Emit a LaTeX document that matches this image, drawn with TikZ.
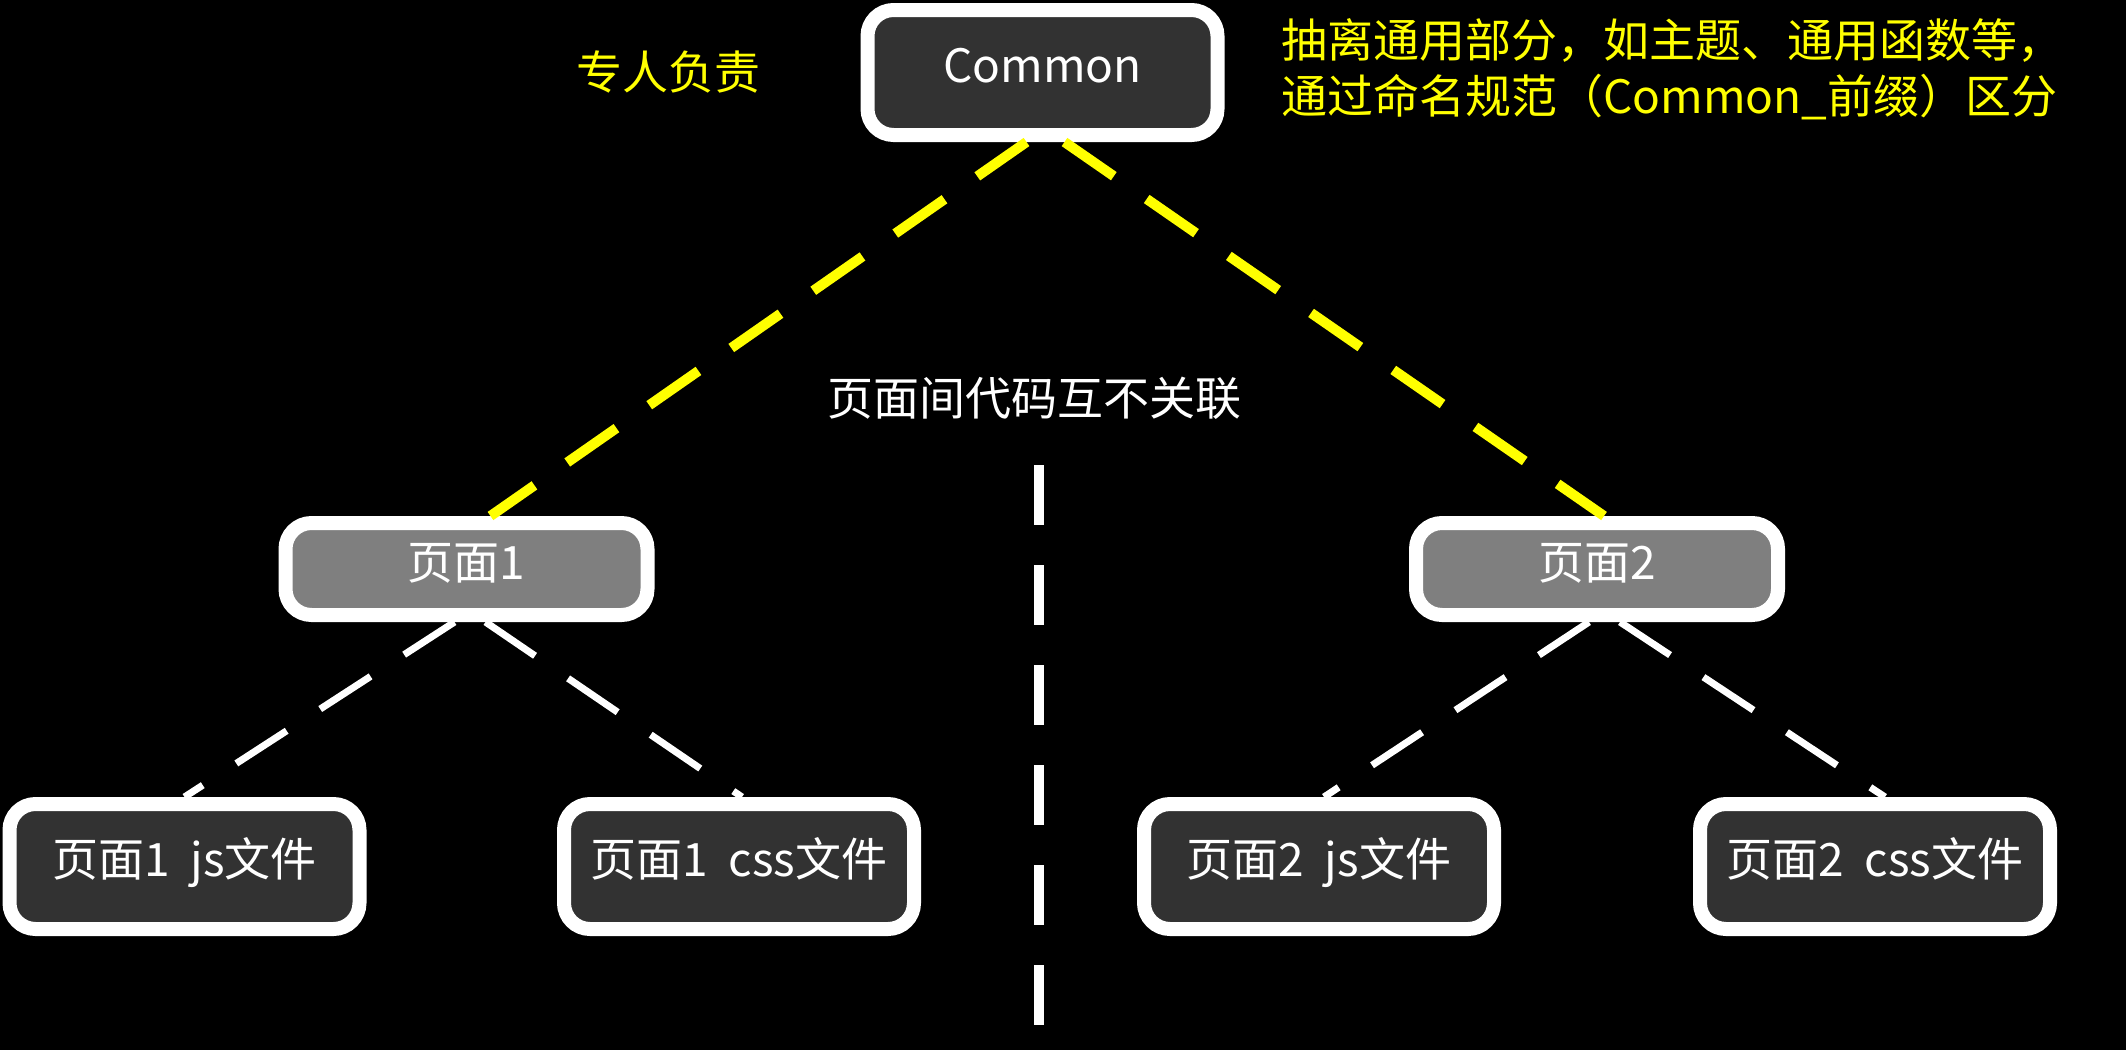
\documentclass[tikz,border=0pt]{standalone}
\usepackage{fontspec}
\setmainfont{Noto Sans CJK SC}
\definecolor{boxdark}{HTML}{323232}
\definecolor{boxgray}{HTML}{7F7F7F}
\definecolor{hiyellow}{HTML}{FFFF00}
\newcommand{\gapsp}{\hspace{0.45em}}
\tikzset{
  basebox/.style={draw=white, line width=14pt, rounded corners=26pt, inner sep=0pt,
    text=white, font=\fontsize{46pt}{55pt}\selectfont, text height=30pt, text depth=10pt},
  darkbox/.style={basebox, fill=boxdark, minimum width=350pt, minimum height=125pt},
  pagebox/.style={basebox, fill=boxgray, minimum width=362pt, minimum height=92pt},
  ylink/.style={draw=hiyellow, line width=10pt, dash pattern=on 60pt off 40pt},
  wlink/.style={draw=white, line width=7pt, dash pattern=on 60pt off 40pt},
  divider/.style={draw=white, line width=10pt, dash pattern=on 60pt off 40pt},
  note/.style={font=\fontsize{46pt}{56pt}\selectfont, inner sep=0pt},
}
\begin{document}
\begin{tikzpicture}[x=1pt,y=-1pt]
\fill[black] (0,0) rectangle (2126,1050);
\useasboundingbox (0,0) rectangle (2126,1050);

\node[darkbox] (common) at (1042.5,72.5) {Common};
\node[pagebox] (p1) at (466.5,569) {页面1};
\node[pagebox] (p2) at (1597,569) {页面2};
\node[darkbox] (p1js) at (184.5,866.5) {页面1\gapsp js文件};
\node[darkbox] (p1css) at (739,866.5) {页面1\gapsp css文件};
\node[darkbox] (p2js) at (1319,866.5) {页面2\gapsp js文件};
\node[darkbox] (p2css) at (1875,866.5) {页面2\gapsp css文件};

\node[note, text=hiyellow] (duty) at (668,72) {专人负责};
\node[note, text=hiyellow, anchor=west, align=left] (abstract) at (1281,69)
  {抽离通用部分，如主题、通用函数等，\\通过命名规范（Common\_前缀）区分};
\node[note, text=white] (isolate) at (1034.5,398) {页面间代码互不关联};

\coordinate (divtop) at (1039,465);
\coordinate (divbot) at (1039,1025);

\draw[ylink] ([xshift=-16pt]common.south) -- ([xshift=24pt]p1.north);
\draw[ylink] ([xshift=22pt]common.south) -- ([xshift=7pt]p2.north);
\draw[wlink] ([xshift=-12pt]p1.south) -- (p1js.north);
\draw[wlink] ([xshift=19pt]p1.south) -- ([xshift=3pt]p1css.north);
\draw[wlink] ([xshift=-8pt]p2.south) -- ([xshift=5pt]p2js.north);
\draw[wlink] ([xshift=23pt]p2.south) -- ([xshift=10pt]p2css.north);
\draw[divider] (divtop) -- (divbot);
\end{tikzpicture}
\end{document}
